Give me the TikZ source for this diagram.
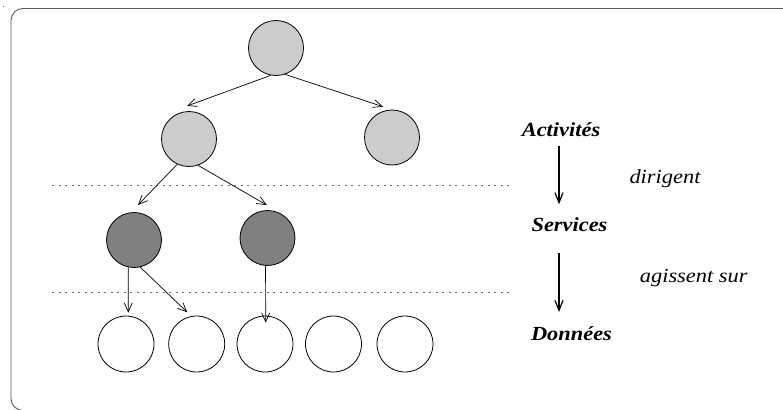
\documentclass[tikz,border=0pt]{standalone}
\usepackage{fontspec}
\usepackage{graphicx}
\setmainfont{LiberationSerif}[Extension=.ttf,UprightFont=*-Regular,BoldFont=*-Bold,ItalicFont=*-Italic,BoldItalicFont=*-BoldItalic]
\usetikzlibrary{arrows.meta}

\definecolor{lightfill}{RGB}{204,204,204}
\definecolor{darkfill}{RGB}{128,128,128}
\definecolor{framegray}{RGB}{90,90,90}
\definecolor{sepgray}{RGB}{110,110,110}

% slightly widened serif lettering for the layer captions
\newcommand{\widetext}[1]{\scalebox{1.12}[1]{#1}}

\begin{document}
\begin{tikzpicture}[x=1pt,y=-1pt,
  nd/.style={circle,draw=black,line width=0.8pt,minimum size=55pt,inner sep=0pt},
  activ/.style={nd,fill=lightfill},
  serv/.style={nd,fill=darkfill},
  donn/.style={nd,fill=white,minimum size=56pt},
  arr/.style={line width=0.7pt,-{Straight Barb[length=9pt,width=8pt,line width=0.7pt]}},
  bigarr/.style={line width=1.3pt,-{Straight Barb[length=10pt,width=8pt,line width=1.2pt]}},
  sep/.style={sepgray,line width=0.8pt,dash pattern=on 2pt off 4.5pt},
  layer/.style={anchor=base,inner sep=0pt,font=\fontsize{20}{24}\selectfont\bfseries\itshape},
  verb/.style={anchor=base,inner sep=0pt,font=\fontsize{20}{24}\selectfont\itshape}]
\useasboundingbox (0,0) rectangle (783,409);

% outer frame, open to the right and bottom
\begin{scope}
  \clip (0,0) rectangle (783,409);
  \draw[framegray,line width=0.9pt,rounded corners=12pt] (11,8.5) rectangle (840,410.5);
\end{scope}
\fill[framegray] (2.5,6.5) rectangle (4,7.5);

% layer separators
\draw[sep] (52,185) -- (510,185);
\draw[sep] (52,292) -- (510,292);

% activities
\node[activ] (top)  at (276,48)  {};
\node[activ] (midl) at (189,139) {};
\node[activ] (midr) at (392,137.5) {};

% services
\node[serv] (dl) at (134,240) {};
\node[serv] (dr) at (267.5,238) {};

% data
\node[donn] (b1) at (126,344) {};
\node[donn] (b2) at (196.7,344) {};
\node[donn] (b3) at (265,344) {};
\node[donn] (b4) at (333.5,344) {};
\node[donn] (b5) at (405,344) {};

% arrow tips
\coordinate (t1) at (187,106);
\coordinate (t2) at (383,106.7);
\coordinate (t3) at (138,205);
\coordinate (t4) at (266.7,205);
\coordinate (t5) at (128.3,312.7);
\coordinate (t6) at (187.3,312.3);
\coordinate (t7) at (265.7,322.7);

\draw[arr] (top.259) -- (t1);
\draw[arr] (top.289) -- (t2);
\draw[arr] (midl.245) -- (t3);
\draw[arr] (midl.289) -- (t4);
\draw[arr] (dl.258) -- (t5);
\draw[arr] (dl.283) -- (t6);
\draw[arr] (dr.266) -- (t7);

% layer names
\node[layer] (act) at (561,136) {\widetext{Activités}};
\node[layer] (ser) at (569.5,231) {\widetext{Services}};
\node[layer] (don) at (571.5,340) {\widetext{Données}};
\node[verb] (dir) at (665,183) {\widetext{dirigent}};
\node[verb] (agi) at (693.7,282) {\widetext{agissent sur}};

\coordinate (a1s) at (559,145.7);
\coordinate (a1e) at (559,204.3);
\coordinate (a2s) at (559,253);
\coordinate (a2e) at (559,312);
\draw[bigarr] (a1s) -- (a1e);
\draw[bigarr] (a2s) -- (a2e);
\end{tikzpicture}
\end{document}
